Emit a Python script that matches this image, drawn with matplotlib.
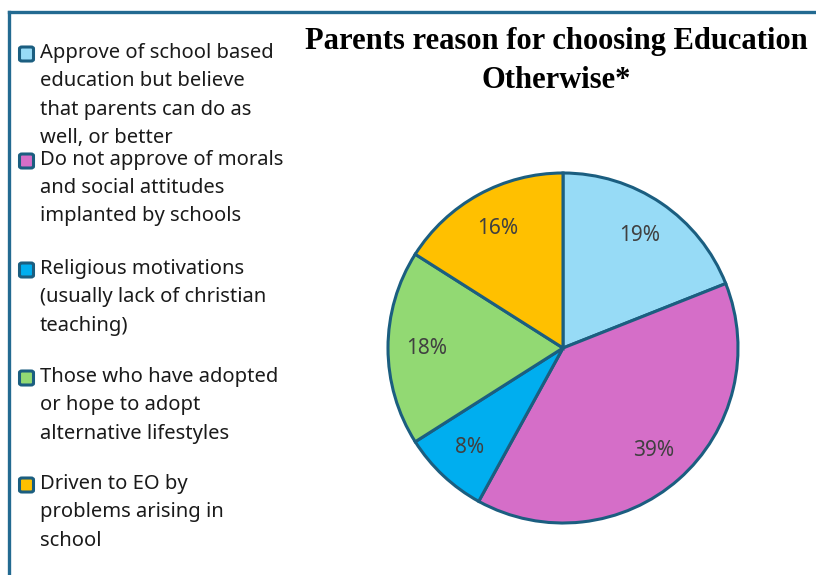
import matplotlib
matplotlib.use('Agg')
import matplotlib.pyplot as plt
from matplotlib.patches import FancyBboxPatch
from matplotlib.lines import Line2D

# Données
labels = [
    "Approve of school based\neducation but believe\nthat parents can do as\nwell, or better",
    "Do not approve of morals\nand social attitudes\nimplanted by schools",
    "Religious motivations\n(usually lack of christian\nteaching)",
    "Those who have adopted\nor hope to adopt\nalternative lifestyles",
    "Driven to EO by\nproblems arising in\nschool",
]
values = [19, 39, 8, 18, 16]
colors = ['#97DBF6', '#D56EC8', '#00AEEF', '#92D973', '#FFC000']
title_lines = ["Parents reason for choosing Education", "Otherwise*"]

W, H = 816, 575
edge = '#1B5E80'
frame = '#236A91'

fig = plt.figure(figsize=(W / 100, H / 100), dpi=100)
fig.patch.set_facecolor('white')

# Cadre (coupé à droite et en bas)
fig.add_artist(Line2D([9 / W, 1.0], [1 - 12 / H, 1 - 12 / H], color=frame, lw=2.4))
fig.add_artist(Line2D([9 / W, 9 / W], [0.0, 1 - 12 / H], color=frame, lw=2.4))

# Camembert
cx, cy, r = 563, 348, 175
ax = fig.add_axes([(cx - r) / W, (H - cy - r) / H, 2 * r / W, 2 * r / H])
wedges, _, autotexts = ax.pie(values, colors=colors, startangle=90, counterclock=False,
                              autopct='%1.0f%%', pctdistance=0.78,
                              wedgeprops={'edgecolor': edge, 'linewidth': 2.2},
                              textprops={'color': '#404040', 'fontsize': 15,
                                         'family': 'Noto Sans'})
for w in wedges:
    w.set_clip_on(False)
ax.set_xlim(-1, 1)
ax.set_ylim(-1, 1)
ax.set_aspect('equal')
ax.axis('off')

# Titre
for line, y in zip(title_lines, [42, 80]):
    fig.text(556 / W, 1 - y / H, line, ha='center', va='center',
             fontsize=22, fontweight='bold', family='Liberation Serif')

# Légende
starts = [53, 160, 269, 377, 484]
for lab, col, y in zip(labels, colors, starts):
    fig.text(40 / W, 1 - (y - 10) / H, lab, ha='left', va='top', fontsize=14.5,
             family='Noto Sans', color='#1a1a1a', linespacing=1.55)
    fig.add_artist(FancyBboxPatch((19.5 / W, 1 - (y + 8) / H), 14 / W, 14 / H,
                                  boxstyle='round,pad=0,rounding_size=0.003',
                                  facecolor=col, edgecolor=edge, lw=2.2,
                                  transform=fig.transFigure))

fig.savefig('out.png', dpi=100)
